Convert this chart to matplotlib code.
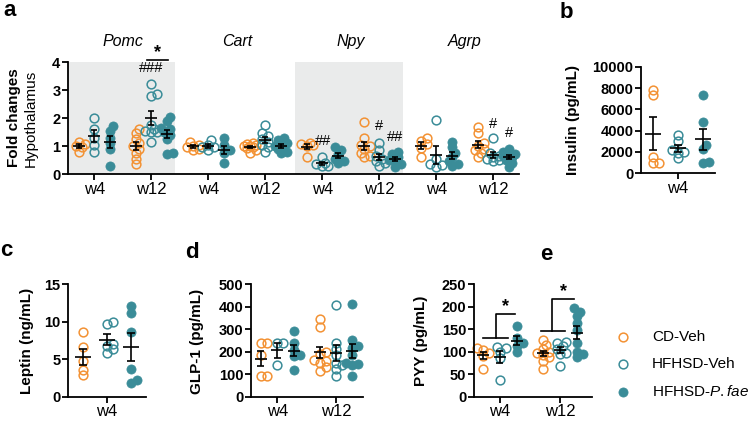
import numpy as np
import matplotlib
matplotlib.use("Agg")
import matplotlib.pyplot as plt
from matplotlib.lines import Line2D

plt.rcParams["font.family"] = ["Liberation Sans", "DejaVu Sans"]
plt.rcParams["mathtext.fontset"] = "custom"
plt.rcParams["mathtext.rm"] = "Liberation Sans"
plt.rcParams["mathtext.it"] = "Liberation Sans:italic"

# ---- data ----
group_names = ["CD-Veh", "HFHSD-Veh", "HFHSD-$\\it{P.fae}$"]
weeks = ["w4", "w12"]
genes = ["Pomc", "Cart", "Npy", "Agrp"]

# order inside each gene: CD w4, Veh w4, P.fae w4, CD w12, Veh w12, P.fae w12
pomc = [[0.78, 0.95, 1.0, 1.08, 1.15],
        [2.0, 1.6, 1.3, 1.05, 0.8],
        [1.7, 1.55, 1.3, 1.1, 0.9, 0.3],
        [1.6, 1.45, 1.25, 1.1, 1.0, 0.9, 0.75, 0.55, 0.35],
        [3.22, 2.85, 2.8, 1.75, 1.6, 1.55, 1.5, 1.5, 1.15],
        [2.05, 1.9, 1.65, 1.6, 1.5, 1.4, 1.25, 0.75, 0.7]]
cart = [[1.15, 1.05, 1.0, 0.95, 0.9, 0.85],
        [1.2, 1.05, 0.95, 0.85, 0.95],
        [1.27, 1.05, 0.85, 0.75, 0.38],
        [1.1, 1.08, 1.05, 1.0, 1.0, 0.95, 0.92, 0.85, 0.75],
        [1.75, 1.45, 1.35, 1.25, 1.15, 1.05, 0.95, 0.8],
        [1.3, 1.2, 1.1, 1.05, 1.0, 0.95, 0.9, 0.8, 0.75]]
npy = [[1.12, 1.08, 1.05, 1.0, 0.6],
       [0.6, 0.4, 0.35, 0.3, 0.3],
       [0.95, 0.85, 0.7, 0.55, 0.45, 0.4],
       [1.85, 1.3, 1.05, 1.0, 0.9, 0.75, 0.65, 0.6],
       [1.1, 0.85, 0.65, 0.55, 0.45, 0.4, 0.3],
       [0.8, 0.7, 0.6, 0.5, 0.45, 0.35, 0.25]]
agrp = [[1.3, 1.18, 1.06, 0.92, 0.62],
        [1.93, 0.55, 0.35, 0.32, 0.25],
        [1.15, 0.95, 0.75, 0.6, 0.45, 0.35, 0.3],
        [1.69, 1.45, 1.1, 1.0, 0.9, 0.85, 0.75, 0.6],
        [1.3, 0.75, 0.65, 0.6, 0.55, 0.5, 0.45],
        [0.9, 0.8, 0.72, 0.7, 0.65, 0.6, 0.5, 0.4, 0.25]]
# hash/star marks in a: (text, x position, y)
marks_a = [("###", 1.0, 3.52), ("##", 4.02, 0.92), ("#", 5.0, 1.45),
           ("##", 5.27, 1.07), ("#", 7.0, 1.55), ("#", 7.27, 1.2)]

insulin = [[7800, 7300, 1500, 1000, 1000],
           [3600, 3000, 2200, 2000, 1900, 1400],
           [7300, 4800, 2700, 2300, 1100, 1000]]
leptin = [[8.6, 6.6, 4.8, 3.6, 2.9],
          [10.0, 9.7, 7.0, 6.8, 6.3, 5.8],
          [12.1, 11.2, 8.65, 3.68, 2.2, 1.8]]
glp1 = [[240, 240, 185, 90, 90],
        [240, 240, 140],
        [293, 240, 207, 185, 180, 118],
        [345, 310, 200, 190, 165, 160, 150, 130, 115],
        [406, 240, 210, 185, 150, 140, 125, 90],
        [411, 252, 225, 215, 185, 150, 145, 140, 90]]
pyy = [[108, 103, 97, 90, 62],
       [110, 108, 100, 86, 36],
       [157, 130, 120, 113, 100],
       [126, 115, 105, 100, 96, 92, 88, 80, 62],
       [122, 120, 112, 105, 98, 95, 68],
       [196, 188, 178, 163, 148, 120, 100, 95, 88]]

ORANGE = "#F39234"
TEAL = "#3A8C98"
GREY = "#EAEBEB"
STYLES = [dict(mfc="none", mec=ORANGE, mew=1.1, ms=6.3),
          dict(mfc="none", mec=TEAL, mew=1.1, ms=6.3),
          dict(mfc=TEAL, mec=TEAL, mew=0.5, ms=6.6)]

W, H = 750, 421
fig = plt.figure(figsize=(7.5, 4.21), dpi=100)


def add_ax(l, t, r, b):
    return fig.add_axes([l / W, 1 - b / H, (r - l) / W, (b - t) / H])


def style_ax(ax, yticks, xlim):
    ax.set_facecolor("none")
    for s in ["top", "right"]:
        ax.spines[s].set_visible(False)
    for s in ["left", "bottom"]:
        ax.spines[s].set_linewidth(1.3)
    ax.set_xlim(*xlim)
    ax.set_ylim(yticks[0], yticks[-1])
    ax.set_yticks(yticks, labels=[str(t) for t in yticks], fontweight="bold")
    ax.tick_params(width=1.3, length=4, pad=1.5)
    ax.tick_params(axis="y", labelsize=10.5)
    ax.tick_params(axis="x", labelsize=12)


def px_scale(ax):
    pos = ax.get_position()
    x0, x1 = ax.get_xlim()
    y0, y1 = ax.get_ylim()
    return pos.width * W / (x1 - x0), pos.height * H / (y1 - y0)


def swarm(ypx, d=5.0, step=3.0):
    order = np.argsort(ypx)
    placed, offs = [], np.zeros(len(ypx))
    for i in order:
        best, best_k = None, 0
        for k in [0, 1, -1, 2, -2]:
            x = k * step
            gap = min([np.hypot(x - px, ypx[i] - py) for px, py in placed] or [99])
            if gap >= d:
                best_k = k
                break
            if best is None or gap > best:
                best, best_k = gap, k
        offs[i] = best_k * step
        placed.append((offs[i], ypx[i]))
    return offs


def draw_group(ax, x, vals, sty, half=6, cap=3):
    sx, sy = px_scale(ax)
    v = np.asarray(vals, float)
    offs = swarm(v * sy) / sx
    ax.plot(x + offs, v, "o", linestyle="none", clip_on=False, zorder=2, **sty)
    m = v.mean()
    se = v.std(ddof=1) / np.sqrt(len(v))
    kw = dict(color="black", lw=1.2, zorder=4, solid_capstyle="butt", clip_on=False)
    ax.plot([x - half / sx, x + half / sx], [m, m], **kw)
    ax.plot([x, x], [m - se, m + se], **kw)
    for yy in (m - se, m + se):
        ax.plot([x - cap / sx, x + cap / sx], [yy, yy], **kw)


def draw_panel(ax, data, centers, off, half, cap):
    for ci, c in enumerate(centers):
        for gi in range(3):
            draw_group(ax, c + (gi - 1) * off, data[ci * 3 + gi], STYLES[gi], half, cap)


# ---- a: hypothalamus ----
ax_a = add_ax(68, 62, 519, 174)
style_ax(ax_a, [0, 1, 2, 3, 4], (-0.46, 7.45))
ax_a.axvspan(-0.46, 1.42, color=GREY, zorder=0, lw=0)
ax_a.axvspan(3.53, 5.42, color=GREY, zorder=0, lw=0)
for gi, (gene, gd) in enumerate(zip(genes, [pomc, cart, npy, agrp])):
    draw_panel(ax_a, gd, [2 * gi, 2 * gi + 1], 0.27, 6, 3)
    ax_a.text(2 * gi + 0.5, 4.72, gene, fontstyle="italic", fontsize=11.5,
              ha="center", va="center", clip_on=False)
ax_a.set_xticks(range(8), labels=weeks * 4)
for txt, xx, yy in marks_a:
    ax_a.text(xx, yy, txt, ha="center", va="bottom", fontsize=10.5)
ax_a.plot([0.92, 1.3], [4.08, 4.08], color="black", lw=1.2, clip_on=False)
ax_a.text(1.11, 4.05, "*", ha="center", va="bottom", fontsize=13, fontweight="bold")
fig.text(14 / W, 1 - 118 / H, "Fold changes", rotation=90, fontsize=11,
         fontweight="bold", ha="center", va="center")
fig.text(31 / W, 1 - 118 / H, "Hypothalamus", rotation=90, fontsize=11,
         ha="center", va="center")

# ---- b: insulin ----
ax_b = add_ax(641, 66.7, 715, 173.3)
style_ax(ax_b, [0, 2000, 4000, 6000, 8000, 10000], (-1.48, 1.48))
draw_panel(ax_b, insulin, [0], 1.0, 8, 4)
ax_b.set_xticks([0], labels=["w4"])
fig.text(573 / W, 1 - 120 / H, "Insulin (pg/mL)", rotation=90, fontsize=11,
         fontweight="bold", ha="center", va="center")

# ---- c: leptin ----
ax_c = add_ax(68, 284, 146, 396.7)
style_ax(ax_c, [0, 5, 10, 15], (-1.625, 1.625))
draw_panel(ax_c, leptin, [0], 1.0, 8, 4)
ax_c.set_xticks([0], labels=["w4"])
fig.text(27 / W, 1 - 341 / H, "Leptin (ng/mL)", rotation=90, fontsize=11,
         fontweight="bold", ha="center", va="center")

# ---- d: GLP-1 ----
ax_d = add_ax(251, 284, 363, 396.7)
style_ax(ax_d, [0, 100, 200, 300, 400, 500], (-0.45, 1.46))
draw_panel(ax_d, glp1, [0, 1], 0.28, 6, 3.5)
ax_d.set_xticks([0, 1], labels=weeks)
fig.text(197 / W, 1 - 341 / H, "GLP-1 (pg/mL)", rotation=90, fontsize=11,
         fontweight="bold", ha="center", va="center")

# ---- e: PYY ----
ax_e = add_ax(474, 284, 592, 396.7)
style_ax(ax_e, [0, 50, 100, 150, 200, 250], (-0.43, 1.53))
draw_panel(ax_e, pyy, [0, 1], 0.28, 6, 3.5)
ax_e.set_xticks([0, 1], labels=weeks)
fig.text(421 / W, 1 - 341 / H, "PYY (pg/mL)", rotation=90, fontsize=11,
         fontweight="bold", ha="center", va="center")
bk = dict(color="black", lw=1.2, clip_on=False)
# w4 bracket
ax_e.plot([-0.28, 0.14], [131, 131], **bk)
ax_e.plot([-0.07, -0.07, 0.25], [131, 183, 183], **bk)
ax_e.text(0.09, 181, "*", ha="center", va="bottom", fontsize=13, fontweight="bold")
# w12 bracket
ax_e.plot([0.68, 1.08], [146, 146], **bk)
ax_e.plot([0.87, 0.87, 1.23], [146, 217, 217], **bk)
ax_e.text(1.06, 215, "*", ha="center", va="bottom", fontsize=13, fontweight="bold")

# ---- legend ----
for i, name in enumerate(group_names):
    yy = 1 - (336.7 + 27.5 * i) / H
    fig.add_artist(Line2D([623 / W], [yy], marker="o", linestyle="none",
                          transform=fig.transFigure, **STYLES[i]))
    fig.text(652 / W, yy, name, fontsize=11, ha="left", va="center")

# ---- panel letters ----
for lab, xx, yy in [("a", 3, 11), ("b", 560, 12), ("c", 0, 251),
                    ("d", 185, 252), ("e", 540, 255)]:
    fig.text(xx / W, 1 - yy / H, lab, fontsize=16, fontweight="bold",
             ha="left", va="center")

fig.savefig("out.png", dpi=100)
